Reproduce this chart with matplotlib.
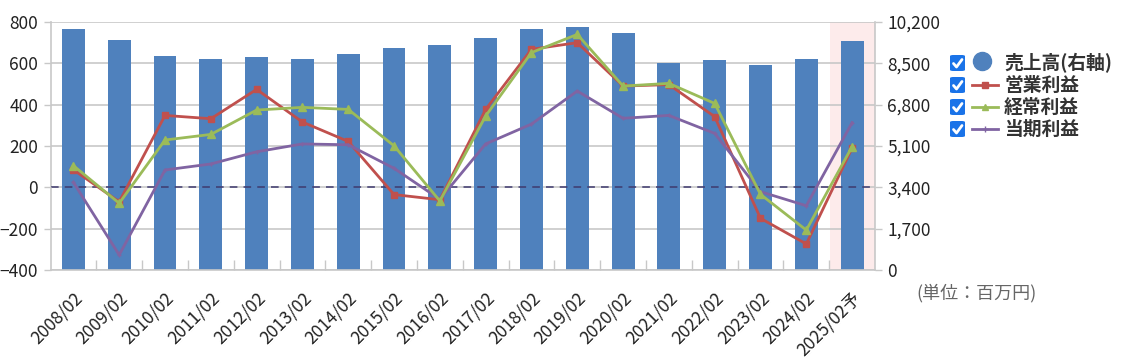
import matplotlib
matplotlib.use('Agg')
import matplotlib.pyplot as plt
import matplotlib.transforms as mtransforms
from matplotlib.patches import FancyBboxPatch
from matplotlib.lines import Line2D
import numpy as np

plt.rcParams['font.family'] = ['Noto Sans CJK JP', 'DejaVu Sans']

categories = ['2008/02', '2009/02', '2010/02', '2011/02', '2012/02', '2013/02',
              '2014/02', '2015/02', '2016/02', '2017/02', '2018/02', '2019/02',
              '2020/02', '2021/02', '2022/02', '2023/02', '2024/02', '2025/02予']
sales = [9900, 9470, 8800, 8680, 8750, 8680, 8870, 9120, 9250, 9540, 9910, 9980,
         9730, 8500, 8620, 8430, 8680, 9420]
operating = [85, -70, 348, 332, 474, 316, 222, -35, -60, 377, 668, 700,
             490, 497, 342, -150, -274, 190]
ordinary = [105, -77, 229, 256, 374, 387, 377, 201, -66, 345, 652, 740,
            490, 503, 406, -34, -207, 197]
net = [24, -327, 84, 113, 172, 210, 206, 92, -58, 210, 306, 466,
       334, 348, 261, -21, -89, 313]

left_ticks = [-400, -200, 0, 200, 400, 600, 800]
right_ticks = [0, 1700, 3400, 5100, 6800, 8500, 10200]
right_labels = ['0', '1,700', '3,400', '5,100', '6,800', '8,500', '10,200']
legend_labels = ['売上高(右軸)', '営業利益', '経常利益', '当期利益']
unit_label = '(単位：百万円)'

C_BAR = '#4F81BD'
C_RED = '#C0504D'
C_GREEN = '#9BBB59'
C_PURPLE = '#8064A2'
C_GRID = '#C8C8C8'
C_TXT = '#222222'

W, H = 1137, 361
fig = plt.figure(figsize=(W / 100, H / 100), dpi=100)

def fx(x):
    return x / W

def fy(y):
    return 1 - y / H

L, R, T, B = 50.5, 875, 22, 270
ax = fig.add_axes([fx(L), fy(B), (R - L) / W, (B - T) / H])
ax2 = ax.twinx()
x = np.arange(len(categories))

# host axis: bars on right scale
ax.set_xlim(-0.5, len(categories) - 0.5)
ax.set_ylim(right_ticks[0], right_ticks[-1])
ax.axvspan(len(categories) - 1.5 + 0.02, len(categories) - 0.5, color='#FDEBEB', zorder=0, lw=0)
ax.bar(x, sales, width=0.5, color=C_BAR, zorder=2)
ax.set_axisbelow(True)
ax.grid(axis='y', color=C_GRID, lw=1.2, zorder=0.5)
ax.yaxis.tick_right()
ax.set_yticks(right_ticks)
ax.set_yticklabels(right_labels)
ax.tick_params(axis='y', which='major', length=5, width=1, color=C_GRID, pad=4,
               labelsize=12.5, labelcolor=C_TXT)
for s in ['left', 'right', 'bottom']:
    ax.spines[s].set_color(C_GRID)
    ax.spines[s].set_linewidth(1.2)
ax.spines['top'].set_visible(False)

ax.set_xticks(x)
ax.set_xticks(np.arange(0.5, len(categories) - 1, 1), minor=True)
ax.tick_params(axis='x', which='major', length=0, pad=18, labelsize=12.5, labelcolor=C_TXT)
ax.tick_params(axis='x', which='minor', direction='in', length=7, width=1, color=C_GRID)
ax.set_xticklabels(categories, rotation=45, ha='right', va='center', rotation_mode='anchor')
off = mtransforms.ScaledTranslation(6 / 100, 0, fig.dpi_scale_trans)
for lab in ax.get_xticklabels():
    lab.set_transform(lab.get_transform() + off)

# twin axis: profit lines on left scale
ax2.set_ylim(left_ticks[0], left_ticks[-1])
ax2.yaxis.tick_left()
ax2.set_yticks(left_ticks)
ax2.tick_params(axis='y', length=5, width=1, color=C_GRID, pad=4, labelsize=12.5, labelcolor=C_TXT)
for s in ax2.spines.values():
    s.set_visible(False)
ax2.axhline(0, color='#3F3A6E', lw=1.1, ls=(0, (5, 4)), zorder=1)
ax2.plot(x, operating, color=C_RED, lw=2, marker='s', ms=4.5, zorder=3)
ax2.plot(x, ordinary, color=C_GREEN, lw=2, marker='^', ms=6, zorder=4)
ax2.plot(x, net, color=C_PURPLE, lw=2, marker='+', ms=3, zorder=3)

# legend drawn manually
rows = [63, 85, 107, 129]
colors = [C_BAR, C_RED, C_GREEN, C_PURPLE]
markers = [None, 's', '^', '+']
for i, (yy, lab) in enumerate(zip(rows, legend_labels)):
    box = FancyBboxPatch((fx(950), fy(yy + 8)), 15 / W, 16 / H,
                         boxstyle='round,pad=0,rounding_size=0.003',
                         transform=fig.transFigure, facecolor='#1A73E8', edgecolor='none')
    fig.add_artist(box)
    fig.add_artist(Line2D([fx(953.5), fx(956.5), fx(962)], [fy(yy + 0.5), fy(yy + 4), fy(yy - 3.5)],
                          transform=fig.transFigure, color='white', lw=2,
                          solid_capstyle='round', solid_joinstyle='round'))
    if i == 0:
        fig.add_artist(Line2D([fx(982)], [fy(yy - 2)], transform=fig.transFigure, color=C_BAR,
                              marker='o', ms=13, lw=0))
    else:
        fig.add_artist(Line2D([fx(972), fx(998)], [fy(yy), fy(yy)], transform=fig.transFigure,
                              color=colors[i], lw=2))
        fig.add_artist(Line2D([fx(985)], [fy(yy)], transform=fig.transFigure, color=colors[i],
                              marker=markers[i], ms=4 if i != 2 else 5, lw=0))
    fig.text(fx(1004), fy(yy), lab, fontsize=13.5, fontweight='bold', color='#333333',
             ha='left', va='center')

fig.text(fx(916), fy(293), unit_label, fontsize=13, color='#666666', ha='left', va='center')

fig.savefig('out.png', dpi=100)
